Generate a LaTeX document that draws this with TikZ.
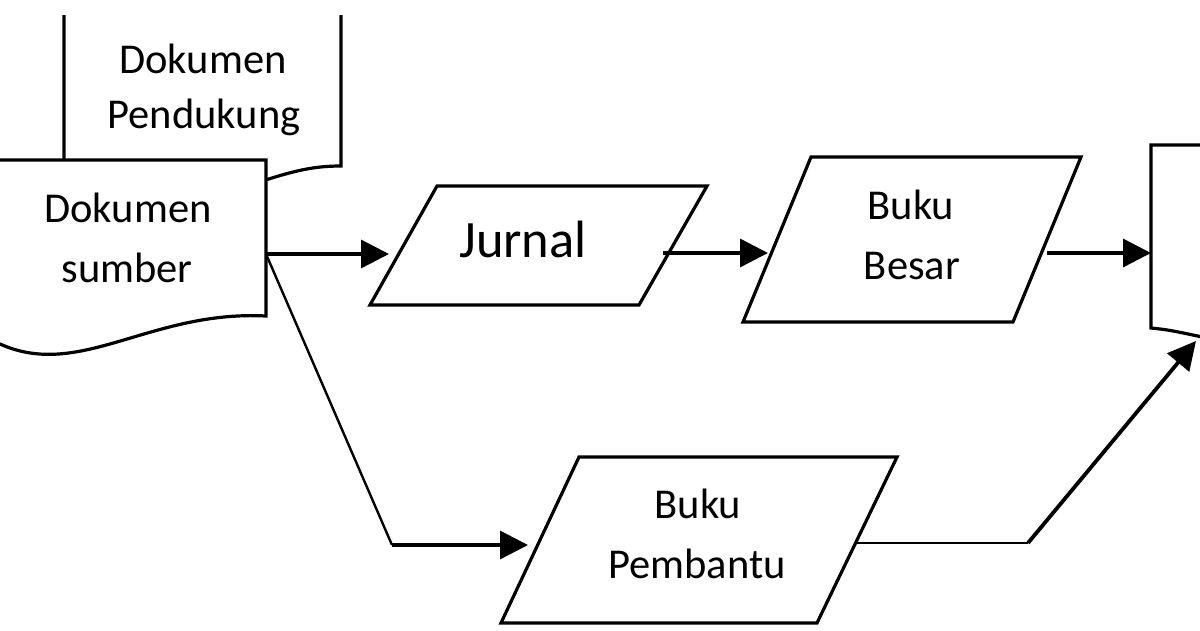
\documentclass[tikz,border=0pt]{standalone}
\usepackage{fontspec}
\setmainfont{Carlito}
\usetikzlibrary{arrows.meta}
\begin{document}
\begin{tikzpicture}[x=1pt,y=-1pt,
  shapeline/.style={draw=black,line width=3.2pt,line join=miter,fill=white},
  conn/.style={draw=black,line width=3.4pt},
  thinconn/.style={draw=black,line width=2.4pt},
  tip/.style={-{Triangle[length=28pt,width=28pt]}},
  lbl/.style={anchor=base,inner sep=0pt,font=\fontsize{42.5}{50}\selectfont},
  biglbl/.style={anchor=base,inner sep=0pt,font=\fontsize{52.5}{60}\selectfont}]
\useasboundingbox (0,0) rectangle (1200,630);
\fill[white] (0,0) rectangle (1200,630);
\clip (0,0) rectangle (1200,630);

% Dokumen Pendukung (behind)
\draw[draw=black,line width=3.2pt,line join=miter]
  (64,15) -- (64,185) -- (250,185) .. controls (290,172) and (310,166) .. (341,166) -- (341,15);
% Dokumen sumber
\draw[shapeline] (-20,160) -- (266,160) -- (266,316)
  .. controls (150,310) and (80,380) .. (0,344) -- (-20,338) -- cycle;
% right document (cut off)
\draw[shapeline] (1230,145) -- (1151,145) -- (1151,328)
  .. controls (1170,330) .. (1230,343);

% Jurnal
\draw[shapeline] (437,186) -- (707,186) -- (639,305) -- (370,305) -- cycle;
% Buku Besar
\draw[shapeline] (811,157) -- (1081,157) -- (1013,322) -- (743,322) -- cycle;
% Buku Pembantu
\draw[shapeline] (579,457) -- (897,457) -- (817,623) -- (501,623) -- cycle;

% labels
\node[lbl] (dp1) at (203,73) {Dokumen};
\node[lbl] (dp2) at (204,128) {Pendukung};
\node[lbl] (ds1) at (128,222) {Dokumen};
\node[lbl] (ds2) at (127,282) {sumber};
\node[biglbl] (jur) at (523,257) {Jurnal};
\node[lbl] (bb1) at (911,219) {Buku};
\node[lbl] (bb2) at (912,279) {Besar};
\node[lbl] (bp1) at (698,518) {Buku};
\node[lbl] (bp2) at (697,578) {Pembantu};

% connector points
\coordinate (sR) at (266,254);
\coordinate (jL) at (389,254);
\coordinate (jR) at (663,253);
\coordinate (bbL) at (768,253);
\coordinate (bbR) at (1047,253);
\coordinate (outL) at (1151,253);
\coordinate (bend1) at (392,545);
\coordinate (bpL) at (528,545);
\coordinate (bpR) at (857,543);
\coordinate (bend2) at (1028,543);
\coordinate (outB) at (1196,341);

\draw[conn,tip] (sR) -- (jL);
\draw[conn,tip] (jR) -- (bbL);
\draw[conn,tip] (bbR) -- (outL);
\draw[thinconn] (sR) -- (bend1);
\draw[conn,tip] (bend1) -- (bpL);
\draw[conn,line width=2.8pt] (bpR) -- (bend2);
\draw[conn,line width=3.8pt,tip] (bend2) -- (outB);
\end{tikzpicture}
\end{document}
